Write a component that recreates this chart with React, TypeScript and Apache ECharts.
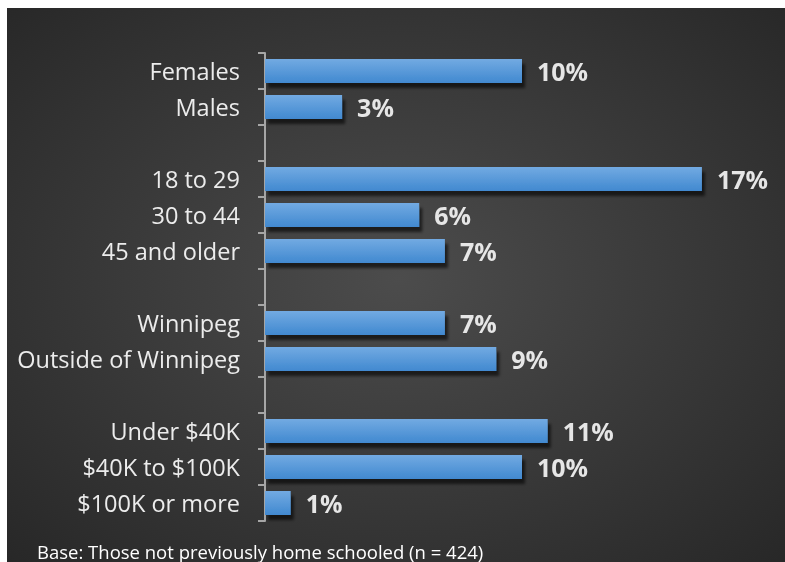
import React, { useEffect, useRef } from "react";
import * as echarts from "echarts";

const categories = [
  "Females",
  "Males",
  "",
  "18 to 29",
  "30 to 44",
  "45 and older",
  " ",
  "Winnipeg",
  "Outside of Winnipeg",
  "  ",
  "Under $40K",
  "$40K to $100K",
  "$100K or more",
];
const values: (number | null)[] = [10, 3, null, 17, 6, 7, null, 7, 9, null, 11, 10, 1];
const footnote = "Base: Those not previously home schooled (n = 424)";

export default function App() {
  const ref = useRef<HTMLDivElement>(null);
  useEffect(() => {
    if (!ref.current) return;
    const chart = echarts.init(ref.current, undefined, { renderer: "svg" });
    chart.setOption({
      animation: false,
      backgroundColor: new echarts.graphic.RadialGradient(0.49, 0.47, 0.72, [
        { offset: 0, color: "#4c4c4c" },
        { offset: 1, color: "#262626" },
      ]),
      grid: { left: 258, width: 514, top: 45, height: 468, containLabel: false },
      xAxis: {
        type: "value",
        min: 0,
        max: 20,
        show: false,
      },
      yAxis: {
        type: "category",
        data: categories,
        inverse: true,
        axisLine: { show: true, lineStyle: { color: "#a6a6a6", width: 2 } },
        axisTick: { show: true, length: 7, lineStyle: { color: "#a6a6a6", width: 2 } },
        axisLabel: {
          margin: 25,
          color: "#ececec",
          fontSize: 23.5,
          fontFamily: "Open Sans",
        },
        splitLine: { show: false },
      },
      series: [
        {
          type: "bar",
          data: values,
          barWidth: 24,
          itemStyle: {
            color: new echarts.graphic.LinearGradient(0, 0, 0, 1, [
              { offset: 0, color: "#72aae2" },
              { offset: 1, color: "#4189d0" },
            ]),
            shadowColor: "rgba(0,0,0,0.6)",
            shadowBlur: 3,
            shadowOffsetX: 3,
            shadowOffsetY: 5,
          },
          label: {
            show: true,
            position: "right",
            distance: 15,
            formatter: "{c}%",
            color: "#e6e6e6",
            fontSize: 25,
            fontWeight: "bold",
            fontFamily: "Open Sans",
          },
        },
      ],
      graphic: [
        {
          type: "text",
          x: 30,
          y: 543,
          style: {
            text: footnote,
            fill: "#ffffff",
            fontSize: 18.5,
            fontFamily: "Open Sans",
            verticalAlign: "middle",
          },
        },
      ],
    });
    return () => chart.dispose();
  }, []);
  return (
    <div
      ref={ref}
      style={{ position: "fixed", left: 7, top: 8, width: 800, height: 575 }}
    />
  );
}
